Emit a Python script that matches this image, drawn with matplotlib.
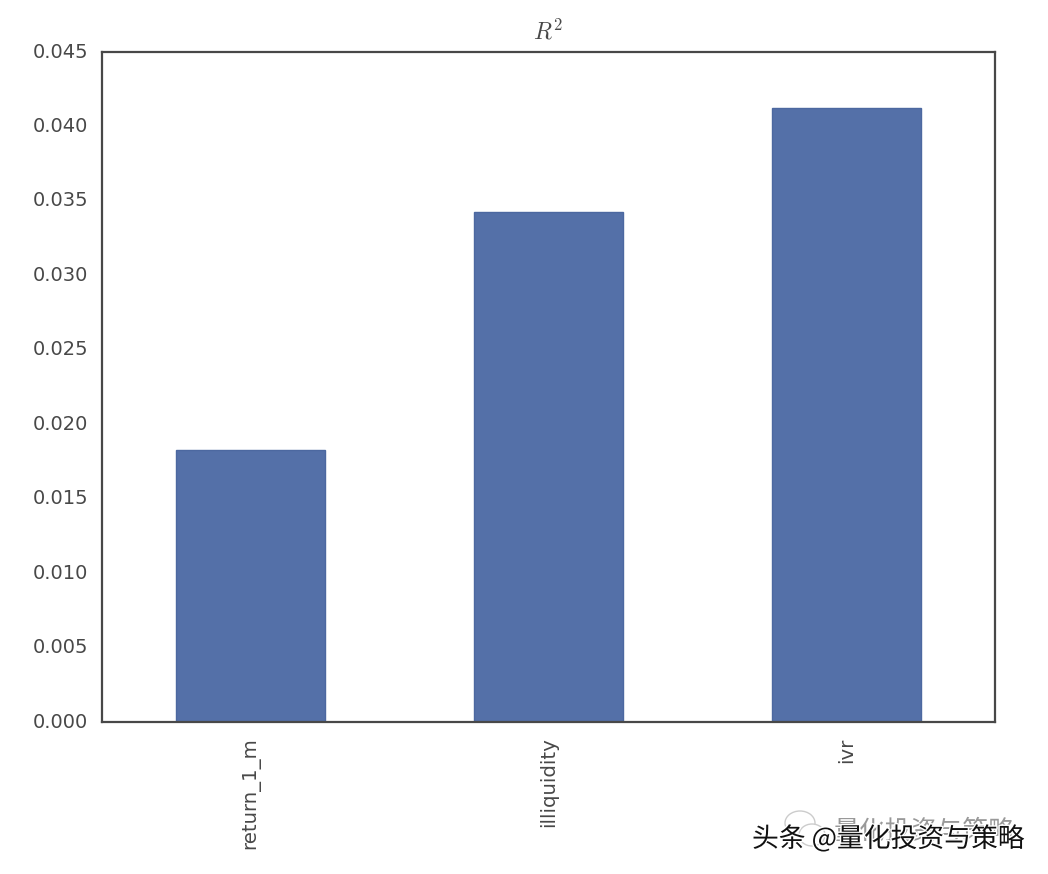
import matplotlib
matplotlib.use("Agg")
import matplotlib.pyplot as plt
import matplotlib.patheffects as pe
from matplotlib.patches import Ellipse
from matplotlib.transforms import ScaledTranslation

categories = ["return_1_m", "illiquidity", "ivr"]
values = [0.01827, 0.03425, 0.04124]
yticks = [0.000, 0.005, 0.010, 0.015, 0.020, 0.025, 0.030, 0.035, 0.040, 0.045]
title = r"$R^2$"
wm_back = "量化投资与策略"
wm_front = "头条 @量化投资与策略"

plt.rcParams["mathtext.fontset"] = "cm"
W, H = 1048, 874
fig = plt.figure(figsize=(W/100, H/100), dpi=100, facecolor="white")
ax = fig.add_axes([102/W, 1-722/H, (995-102)/W, (722-52)/H])
xs = range(len(categories))
ax.bar(xs, values, width=0.5, color="#5470a8", edgecolor="#4c68a0", linewidth=1)
ax.set_xlim(-0.5, 2.5)
ax.set_ylim(0, 0.045)
ax.set_yticks(yticks)
ax.set_yticklabels([f"{v:.3f}" for v in yticks], fontsize=14, color="#484848", family="DejaVu Sans")
ax.set_xticks(list(xs))
ax.set_xticklabels(categories, rotation=90, fontsize=14.2, color="#484848", family="DejaVu Sans")
ax.tick_params(length=0)
ax.tick_params(axis="y", pad=10)
ax.tick_params(axis="x", pad=11)
shift = ScaledTranslation(0, 2/100, fig.dpi_scale_trans)
for lab in ax.get_yticklabels():
    lab.set_transform(lab.get_transform() + shift)
for s in ax.spines.values():
    s.set_linewidth(1.6)
    s.set_color("#484848")
ax.set_title(title, fontsize=17, color="#484848", pad=9)

cjk = ["Noto Sans CJK SC", "DejaVu Sans"]
fig.add_artist(Ellipse((800/W, 1-823/H), 30/W, 24/H, transform=fig.transFigure,
                       facecolor="white", edgecolor="#cccccc", lw=1))
fig.add_artist(Ellipse((812/W, 1-835/H), 26/W, 22/H, transform=fig.transFigure,
                       facecolor="white", edgecolor="#cccccc", lw=1))
fig.text(834/W, 1-831/H, wm_back, fontsize=18.6, color="#999999", family=cjk, va="center")
fig.text(752/W, 1-839/H, wm_front, fontsize=19.3, color="#111111", family=cjk, va="center",
         path_effects=[pe.withStroke(linewidth=2, foreground="white")])
fig.savefig("out.png", dpi=100)
